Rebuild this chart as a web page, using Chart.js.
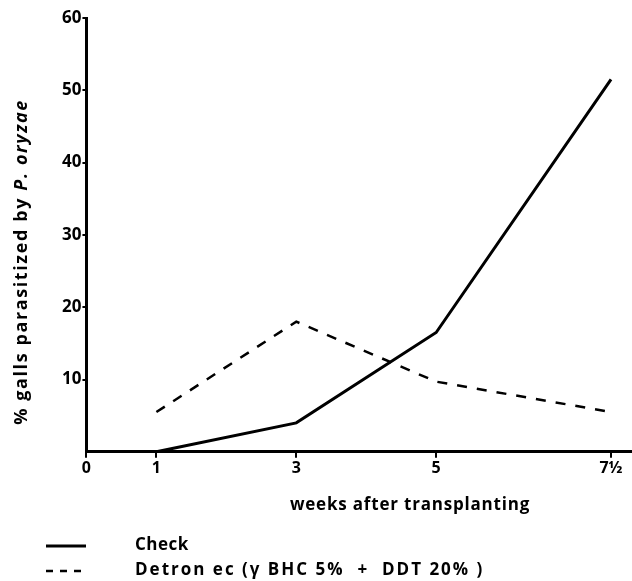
<!DOCTYPE html>
<html>
<head>
<meta charset="utf-8">
<script src="https://cdn.jsdelivr.net/npm/chart.js@4"></script>
<style>
  html, body { margin: 0; padding: 0; background: #fff; }
  #wrap { width: 632px; height: 581px; }
</style>
</head>
<body>
<div id="wrap"><canvas id="galls"></canvas></div>
<script>
// weeks after transplanting
const weeks = [1, 3, 5, 7.5];
const checkValues = [0, 4, 16.5, 51.5];
const detronValues = [5.5, 18, 9.7, 5.5];

const xTickValues = [0, 1, 3, 5, 7.5];
const xTickLabels = ['0', '1', '3', '5', '7½'];
const yTickValues = [10, 20, 30, 40, 50, 60];

const seriesNames = ['Check', 'Detron ec (γ BHC 5%  +  DDT 20% )'];

const FONT = '"Open Sans", "Lato", sans-serif';

// axis titles + legend drawn by hand (mixed italic in y title)
const annotations = {
  id: 'annotations',
  afterDraw(chart) {
    const ctx = chart.ctx;
    ctx.save();
    ctx.fillStyle = '#000';

    // y title
    ctx.save();
    ctx.translate(22, 262);
    ctx.rotate(-Math.PI / 2);
    ctx.textBaseline = 'middle';
    ctx.letterSpacing = '1.6px';
    const part1 = '% galls parasitized by ';
    const part2 = 'P. oryzae';
    ctx.font = 'bold 18px ' + FONT;
    const w1 = ctx.measureText(part1).width;
    ctx.font = 'italic bold 18px ' + FONT;
    const w2 = ctx.measureText(part2).width;
    let x = -(w1 + w2) / 2;
    ctx.font = 'bold 18px ' + FONT;
    ctx.textAlign = 'left';
    ctx.fillText(part1, x, 0);
    ctx.font = 'italic bold 18px ' + FONT;
    ctx.fillText(part2, x + w1, 0);
    ctx.restore();

    // x title
    ctx.font = 'bold 17px ' + FONT;
    ctx.letterSpacing = '0.8px';
    ctx.textAlign = 'center';
    ctx.textBaseline = 'middle';
    ctx.fillText('weeks after transplanting', 410, 505);

    // legend
    const rows = [
      { y: 546, dash: [], width: 3, spacing: '0.5px' },
      { y: 571, dash: [7, 7], width: 2.5, spacing: '2px' }
    ];
    ctx.textAlign = 'left';
    rows.forEach((r, i) => {
      ctx.beginPath();
      ctx.lineWidth = r.width;
      ctx.strokeStyle = '#000';
      ctx.setLineDash(r.dash);
      ctx.moveTo(46, r.y);
      ctx.lineTo(86, r.y);
      ctx.stroke();
      ctx.setLineDash([]);
      ctx.font = 'bold 17px ' + FONT;
      ctx.letterSpacing = r.spacing;
      ctx.fillText(seriesNames[i], 135, r.y - 1);
    });
    ctx.restore();
  }
};

new Chart(document.getElementById('galls'), {
  type: 'line',
  data: {
    datasets: [
      {
        label: seriesNames[0],
        data: weeks.map((w, i) => ({ x: w, y: checkValues[i] })),
        borderColor: '#000',
        borderWidth: 3,
        pointRadius: 0,
        tension: 0,
        fill: false
      },
      {
        label: seriesNames[1],
        data: weeks.map((w, i) => ({ x: w, y: detronValues[i] })),
        borderColor: '#000',
        borderWidth: 2.5,
        borderDash: [10, 10],
        pointRadius: 0,
        tension: 0,
        fill: false
      }
    ]
  },
  options: {
    responsive: true,
    maintainAspectRatio: false,
    animation: false,
    layout: { padding: { left: 61, right: 0, top: 18, bottom: 102 } },
    plugins: {
      legend: { display: false },
      tooltip: { enabled: false }
    },
    scales: {
      x: {
        type: 'linear',
        min: 0,
        max: 7.8,
        afterBuildTicks: axis => { axis.ticks = xTickValues.map(v => ({ value: v })); },
        border: { display: true, color: '#000', width: 3 },
        grid: { display: true, drawOnChartArea: false, drawTicks: true, tickLength: 6, color: '#000', lineWidth: 2 },
        ticks: {
          color: '#000',
          padding: 1,
          maxRotation: 0,
          font: { family: FONT, size: 16, weight: 'bold' },
          callback: (v) => xTickLabels[xTickValues.indexOf(v)]
        }
      },
      y: {
        min: 0,
        max: 60,
        afterBuildTicks: axis => { axis.ticks = yTickValues.map(v => ({ value: v })); },
        border: { display: true, color: '#000', width: 3 },
        grid: { display: true, drawOnChartArea: false, drawTicks: true, tickLength: 4, color: '#000', lineWidth: 2 },
        ticks: {
          color: '#000',
          padding: 1,
          font: { family: FONT, size: 17, weight: 'bold' }
        }
      }
    }
  },
  plugins: [annotations]
});
</script>
</body>
</html>
